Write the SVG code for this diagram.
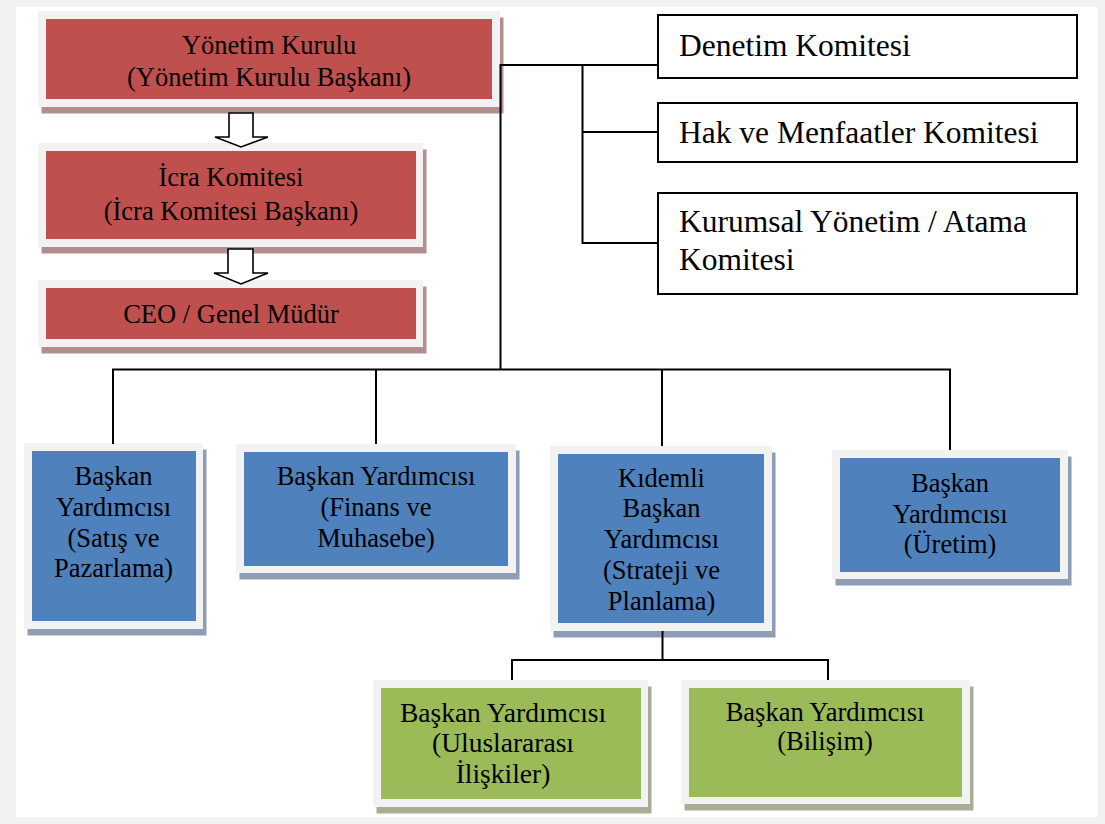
<svg xmlns="http://www.w3.org/2000/svg" width="1105" height="824" viewBox="0 0 1105 824">
<style>
text{font-family:"Liberation Serif","Times New Roman",serif;fill:#000;text-anchor:middle;}
.t{font-size:26.5px;}
.tc{font-size:31.5px;text-anchor:start;}
.frame{fill:#f2f2f2;}
.shR{fill:#b38e8e;}
.shB{fill:#8e9db3;}
.shG{fill:#a8ae94;}
.red{fill:#c0504d;}
.blue{fill:#4f81bd;}
.green{fill:#9bbb59;}
.com{fill:#fff;stroke:#000;stroke-width:2;}
.ln{stroke:#000;stroke-width:2;fill:none;}
.arr{fill:#fff;stroke:#000;stroke-width:1.6;stroke-linejoin:miter;}
</style>
<rect x="0" y="0" width="1105" height="824" fill="#f2f2f2"/>
<rect x="16" y="7" width="1082" height="810" fill="#fff"/>

<g id="yonetim-kurulu">
<rect class="shR" x="41.5" y="17.5" width="462" height="96"/>
<rect class="frame" x="38" y="11" width="462" height="96"/>
<rect class="red" x="46" y="19" width="446" height="80"/>
<text class="t" x="269" y="53.5">Yönetim Kurulu</text>
<text class="t" x="269" y="86">(Yönetim Kurulu Başkanı)</text>
</g>

<g id="icra-komitesi">
<rect class="shR" x="41.5" y="149.5" width="385" height="104"/>
<rect class="frame" x="38" y="143" width="385" height="104"/>
<rect class="red" x="46" y="151" width="370" height="88"/>
<text class="t" x="231" y="186">İcra Komitesi</text>
<text class="t" x="231" y="219.5">(İcra Komitesi Başkanı)</text>
</g>

<g id="ceo">
<rect class="shR" x="41.5" y="286.5" width="385" height="67"/>
<rect class="frame" x="38" y="280" width="385" height="67"/>
<rect class="red" x="46" y="288" width="370" height="51"/>
<text class="t" x="231" y="322.5">CEO / Genel Müdür</text>
</g>

<g id="denetim-komitesi">
<rect class="com" x="658" y="15" width="419" height="63"/>
<text class="tc" x="679" y="55.7">Denetim Komitesi</text>
</g>

<g id="hak-menfaatler-komitesi">
<rect class="com" x="658" y="103" width="419" height="59"/>
<text class="tc" x="679" y="142.7">Hak ve Menfaatler Komitesi</text>
</g>

<g id="kurumsal-yonetim-komitesi">
<rect class="com" x="658" y="193" width="419" height="101"/>
<text class="tc" x="679" y="232.3">Kurumsal Yönetim / Atama</text>
<text class="tc" x="679" y="269.8">Komitesi</text>
</g>

<g id="satis-pazarlama">
<rect class="shB" x="27.5" y="449.5" width="179" height="186"/>
<rect class="frame" x="24" y="443" width="179" height="186"/>
<rect class="blue" x="32" y="451" width="164" height="170"/>
<text class="t" x="113.5" y="485">Başkan</text>
<text class="t" x="113.5" y="516">Yardımcısı</text>
<text class="t" x="113.5" y="546.7">(Satış ve</text>
<text class="t" x="113.5" y="577.3">Pazarlama)</text>
</g>

<g id="finans-muhasebe">
<rect class="shB" x="239.5" y="450.5" width="280" height="129"/>
<rect class="frame" x="236" y="444" width="280" height="129"/>
<rect class="blue" x="244" y="452" width="264" height="114"/>
<text class="t" x="376" y="485.3">Başkan Yardımcısı</text>
<text class="t" x="376" y="515.7">(Finans ve</text>
<text class="t" x="376" y="546.7">Muhasebe)</text>
</g>

<g id="strateji-planlama">
<rect class="shB" x="553.5" y="452.5" width="222" height="185"/>
<rect class="frame" x="550" y="446" width="222" height="185"/>
<rect class="blue" x="558" y="454" width="206" height="169"/>
<text class="t" x="661.5" y="486.7">Kıdemli</text>
<text class="t" x="661.5" y="517.3">Başkan</text>
<text class="t" x="661.5" y="548.3">Yardımcısı</text>
<text class="t" x="661.5" y="579.3">(Strateji ve</text>
<text class="t" x="661.5" y="609.5">Planlama)</text>
</g>

<g id="uretim">
<rect class="shB" x="835.5" y="456.5" width="236" height="129"/>
<rect class="frame" x="832" y="450" width="236" height="129"/>
<rect class="blue" x="840" y="458" width="220" height="114"/>
<text class="t" x="950" y="491.7">Başkan</text>
<text class="t" x="950" y="522.7">Yardımcısı</text>
<text class="t" x="950" y="553.3">(Üretim)</text>
</g>

<g id="uluslararasi-iliskiler">
<rect class="shG" x="376.5" y="686.5" width="275" height="127"/>
<rect class="frame" x="373" y="680" width="275" height="127"/>
<rect class="green" x="381" y="688" width="260" height="111"/>
<text class="t" x="503" y="721.7" style="font-size:27.5px">Başkan Yardımcısı</text>
<text class="t" x="503" y="751.7" style="font-size:27.5px">(Uluslararası</text>
<text class="t" x="503" y="783.3" style="font-size:27.5px">İlişkiler)</text>
</g>

<g id="bilisim">
<rect class="shG" x="684.5" y="686.5" width="289" height="124"/>
<rect class="frame" x="681" y="680" width="289" height="124"/>
<rect class="green" x="689" y="688" width="273" height="109"/>
<text class="t" x="825" y="721">Başkan Yardımcısı</text>
<text class="t" x="825" y="750">(Bilişim)</text>
</g>

<g id="connectors">
<path class="arr" d="M229,113 H253 V137 H268 L241,147 L215,137 H229 Z"/>
<path class="arr" d="M228,249 H253 V273 H268 L241,284 L214,273 H228 Z"/>
<path class="ln" d="M500.5,369 V65 H658"/>
<path class="ln" d="M582.5,65 V243 H658"/>
<path class="ln" d="M582.5,132 H658"/>
<path class="ln" d="M113,444 V369.5 H950 V450"/>
<path class="ln" d="M376,369.5 V444"/>
<path class="ln" d="M662,369.5 V446"/>
<path class="ln" d="M662.5,631 V660"/>
<path class="ln" d="M512,680 V660 H828 V680"/>
</g>
</svg>
